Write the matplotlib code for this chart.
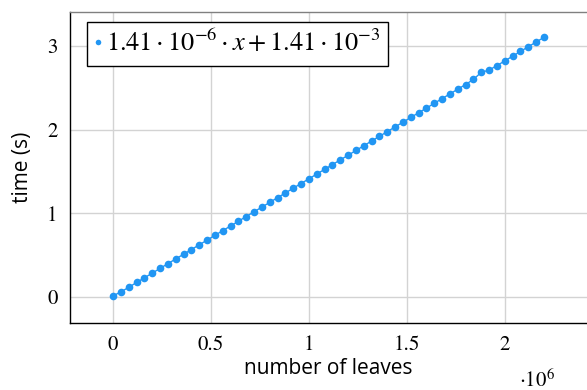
import matplotlib
matplotlib.use("Agg")
import matplotlib.pyplot as plt
from matplotlib.lines import Line2D

# measured points: number of leaves vs. time (s)
leaves = [0, 40000, 80000, 120000, 160000, 200000, 240000, 280000, 320000, 360000,
          400000, 440000, 480000, 520000, 560000, 600000, 640000, 680000, 720000, 760000,
          800000, 840000, 880000, 920000, 960000, 1000000, 1040000, 1080000, 1120000, 1160000,
          1200000, 1240000, 1280000, 1320000, 1360000, 1400000, 1440000, 1480000, 1520000, 1560000,
          1600000, 1640000, 1680000, 1720000, 1760000, 1800000, 1840000, 1880000, 1920000, 1960000,
          2000000, 2040000, 2080000, 2120000, 2160000, 2200000]
times = [0.012, 0.058, 0.114, 0.171, 0.227, 0.283, 0.340, 0.396, 0.453, 0.509,
         0.565, 0.622, 0.678, 0.735, 0.791, 0.847, 0.904, 0.960, 1.017, 1.073,
         1.129, 1.186, 1.242, 1.299, 1.355, 1.411, 1.468, 1.524, 1.581, 1.637,
         1.693, 1.750, 1.806, 1.863, 1.919, 1.975, 2.032, 2.088, 2.145, 2.201,
         2.257, 2.314, 2.370, 2.427, 2.483, 2.539, 2.600, 2.685, 2.712, 2.765,
         2.821, 2.878, 2.934, 2.991, 3.047, 3.103]

fit_label = r'$1.41\cdot10^{-6}\cdot x+1.41\cdot10^{-3}$'
xticks = [0, 500000, 1000000, 1500000, 2000000]
xtick_labels = ['0', '0.5', '1', '1.5', '2']
yticks = [0, 1, 2, 3]
ytick_labels = ['0', '1', '2', '3']

blue = '#2196f3'
plt.rcParams['mathtext.fontset'] = 'stix'

fig = plt.figure(figsize=(5.87, 3.90), dpi=100)
ax = fig.add_axes([70 / 587, 1 - 322.7 / 390, 517 / 587, 311 / 390])

ax.plot(leaves, times, color=blue, lw=1, marker='o', ms=5.5, mec=blue, mew=0, zorder=3)

ax.set_xlim(-220000, 2420000)
ax.set_ylim(-0.31, 3.41)
ax.set_xticks(xticks)
ax.set_xticklabels(xtick_labels, fontfamily='STIXGeneral', fontsize=15)
ax.set_yticks(yticks)
ax.set_yticklabels(ytick_labels, fontfamily='STIXGeneral', fontsize=15)
ax.tick_params(length=0, pad=9)
ax.grid(True, color='#d3d3d3', lw=1)
ax.set_axisbelow(True)

ax.spines['right'].set_visible(False)
ax.spines['top'].set_color('#808080')
ax.spines['left'].set_color('black')
ax.spines['bottom'].set_color('black')
for s in ax.spines.values():
    s.set_linewidth(1)

ax.set_xlabel('number of leaves', fontfamily='Open Sans', fontsize=15)
ax.set_ylabel('time (s)', fontfamily='Open Sans', fontsize=15)
ax.xaxis.set_label_coords(0.5, -0.112)
ax.yaxis.set_label_coords(-0.072, 0.5)
ax.text(0.903, -0.184, r'$\cdot10^{6}$', transform=ax.transAxes, fontsize=15,
        ha='center', va='center')

handle = Line2D([], [], ls='none', marker='o', ms=4, color=blue, mew=0)
leg = ax.legend([handle], [fit_label], loc='upper left', bbox_to_anchor=(0.032, 0.968),
                borderaxespad=0, fancybox=False, framealpha=1, edgecolor='black',
                fontsize=19, handlelength=0.2, handletextpad=0.2, borderpad=0.32)
leg.get_frame().set_linewidth(1)

fig.savefig('out.png', dpi=100)
